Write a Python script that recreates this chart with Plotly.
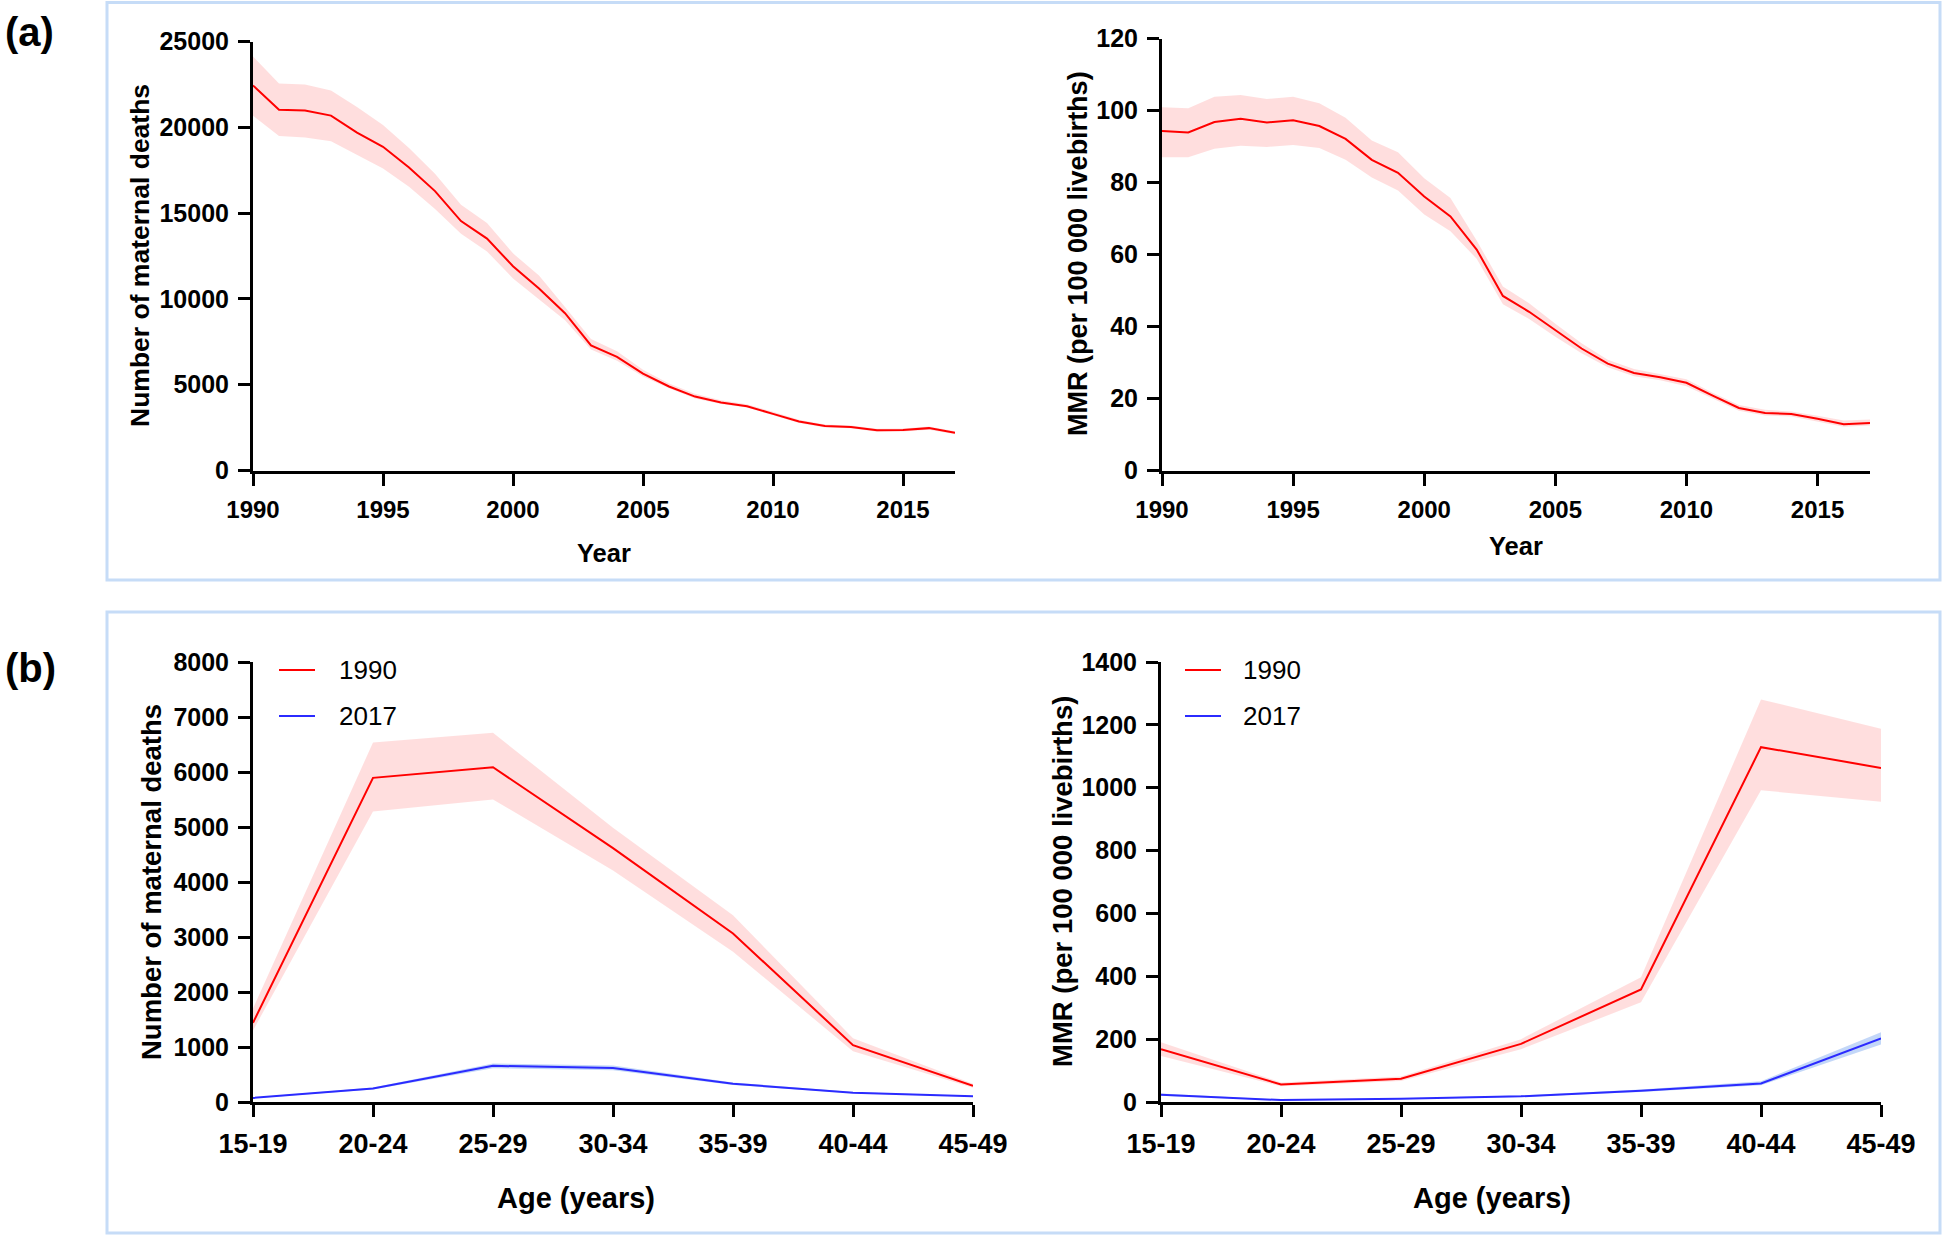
import plotly.graph_objects as go

# ---------------- data ----------------
years = list(range(1990, 2018))

deaths_mid = [22450, 21030, 20990, 20690, 19700, 18870, 17670, 16290, 14540, 13520,
              11910, 10610, 9170, 7290, 6620, 5650, 4900, 4310, 3970, 3750,
              3300, 2860, 2590, 2540, 2340, 2360, 2470, 2200]
deaths_hi = [24140, 22560, 22500, 22150, 21200, 20150, 18800, 17300, 15500, 14430,
             12660, 11370, 9530, 7660, 6950, 5870, 5070, 4470, 4100, 3860,
             3420, 2960, 2680, 2630, 2430, 2450, 2570, 2290]
deaths_lo = [20690, 19500, 19410, 19200, 18380, 17600, 16540, 15250, 13800, 12770,
             11200, 9970, 8760, 7050, 6400, 5480, 4790, 4200, 3880, 3670,
             3200, 2770, 2510, 2460, 2260, 2280, 2380, 2120]

mmr_mid = [94.3, 93.9, 96.8, 97.7, 96.7, 97.3, 95.7, 92.1, 86.3, 82.7,
           76.1, 70.6, 61.4, 48.5, 44.1, 39.0, 33.9, 29.7, 27.1, 25.9,
           24.4, 20.8, 17.4, 16.0, 15.7, 14.4, 12.9, 13.2]
mmr_hi = [100.9, 100.6, 103.8, 104.3, 103.2, 103.8, 102.0, 98.0, 91.7, 88.4,
          81.2, 75.7, 63.9, 51.1, 46.5, 40.8, 35.4, 30.8, 28.2, 26.7,
          25.4, 21.6, 18.2, 16.9, 16.4, 15.2, 13.9, 14.2]
mmr_lo = [87.0, 87.0, 89.4, 90.2, 89.9, 90.4, 89.6, 86.3, 81.4, 77.8,
          71.1, 66.5, 58.8, 46.2, 42.1, 37.2, 32.6, 28.7, 26.2, 25.1,
          23.4, 20.0, 16.6, 15.3, 15.0, 13.7, 12.2, 12.5]

ages = ["15-19", "20-24", "25-29", "30-34", "35-39", "40-44", "45-49"]

age_deaths_1990 = [1440, 5894, 6086, 4616, 3065, 1034, 295]
age_deaths_1990_hi = [1700, 6536, 6713, 4985, 3397, 1160, 332]
age_deaths_1990_lo = [1300, 5280, 5502, 4210, 2733, 923, 258]
age_deaths_2017 = [74, 244, 657, 620, 332, 170, 103]
age_deaths_2017_hi = [82, 262, 700, 665, 356, 183, 111]
age_deaths_2017_lo = [66, 226, 615, 578, 310, 158, 95]

age_mmr_1990 = [168, 56, 74, 185, 358, 1129, 1063]
age_mmr_1990_hi = [190, 62, 81, 200, 397, 1281, 1188]
age_mmr_1990_lo = [146, 50, 67, 168, 317, 992, 955]
age_mmr_2017 = [23, 6, 10, 18, 36, 59, 202]
age_mmr_2017_hi = [27, 7, 12, 21, 40, 66, 222]
age_mmr_2017_lo = [20, 5, 9, 16, 32, 53, 183]

# ---------------- styling ----------------
W, H = 1944, 1237
RED = "#ff0000"
RED_BAND = "rgba(255,0,0,0.13)"
BLUE = "#2b2bff"
BLUE_BAND = "rgba(40,110,230,0.28)"
BOX = "#c6dcf7"
FONT = "Liberation Sans, Arial, sans-serif"


def px(x):
    return x / W


def py(y):
    return 1 - y / H


fig = go.Figure()


def add_series(x, mid, lo, hi, color, band_color, xa, ya):
    xs = list(x)
    fig.add_trace(go.Scatter(
        x=xs + xs[::-1], y=list(hi) + list(lo)[::-1],
        fill="toself", fillcolor=band_color, mode="lines",
        line=dict(width=0), hoverinfo="skip", showlegend=False,
        xaxis=xa, yaxis=ya))
    fig.add_trace(go.Scatter(
        x=xs, y=mid, mode="lines", line=dict(color=color, width=2),
        showlegend=False, xaxis=xa, yaxis=ya))


add_series(years, deaths_mid, deaths_lo, deaths_hi, RED, RED_BAND, "x", "y")
add_series(years, mmr_mid, mmr_lo, mmr_hi, RED, RED_BAND, "x2", "y2")
add_series(ages, age_deaths_1990, age_deaths_1990_lo, age_deaths_1990_hi, RED, RED_BAND, "x3", "y3")
add_series(ages, age_deaths_2017, age_deaths_2017_lo, age_deaths_2017_hi, BLUE, BLUE_BAND, "x3", "y3")
add_series(ages, age_mmr_1990, age_mmr_1990_lo, age_mmr_1990_hi, RED, RED_BAND, "x4", "y4")
add_series(ages, age_mmr_2017, age_mmr_2017_lo, age_mmr_2017_hi, BLUE, BLUE_BAND, "x4", "y4")


def axis_common(size):
    return dict(
        showline=True, linecolor="black", linewidth=3,
        ticks="outside", ticklen=12, tickwidth=3, tickcolor="black",
        showgrid=False, zeroline=False, mirror=False, automargin=False,
        tickfont=dict(family=FONT, size=size, color="black", weight="bold"),
        ticklabelstandoff=4, tickformat="d",
    )


ya_top = [py(470.5), py(41.7)]
yb = [py(1102), py(662)]

fig.update_layout(
    width=W, height=H,
    margin=dict(l=0, r=0, t=0, b=0, pad=0, autoexpand=False),
    paper_bgcolor="white", plot_bgcolor="white",
    showlegend=False,
    xaxis=dict(domain=[px(253), px(955)], anchor="y", range=[1990, 2017],
               tickvals=[1990, 1995, 2000, 2005, 2010, 2015], **axis_common(24)),
    yaxis=dict(domain=ya_top, anchor="x", range=[0, 25000],
               tickvals=[0, 5000, 10000, 15000, 20000, 25000], **axis_common(25)),
    xaxis2=dict(domain=[px(1162), px(1870)], anchor="y2", range=[1990, 2017],
                tickvals=[1990, 1995, 2000, 2005, 2010, 2015], **axis_common(24)),
    yaxis2=dict(domain=[py(470.6), py(38.5)], anchor="x2", range=[0, 120],
                tickvals=[0, 20, 40, 60, 80, 100, 120], **axis_common(25)),
    xaxis3=dict(domain=[px(253), px(973)], anchor="y3", type="category",
                categoryorder="array", categoryarray=ages, range=[0, 6],
                **axis_common(27)),
    yaxis3=dict(domain=yb, anchor="x3", range=[0, 8000],
                tickvals=list(range(0, 8001, 1000)), **axis_common(25)),
    xaxis4=dict(domain=[px(1161), px(1881)], anchor="y4", type="category",
                categoryorder="array", categoryarray=ages, range=[0, 6],
                **axis_common(27)),
    yaxis4=dict(domain=yb, anchor="x4", range=[0, 1400],
                tickvals=list(range(0, 1401, 200)), **axis_common(25)),
)

# panel boxes
for (x0, y0, x1, y1) in [(107, 2.5, 1940, 580), (107, 612, 1940, 1233)]:
    fig.add_shape(type="rect", xref="paper", yref="paper",
                  x0=px(x0), x1=px(x1), y0=py(y1), y1=py(y0),
                  line=dict(color=BOX, width=3), fillcolor="rgba(0,0,0,0)", layer="below")


def text(x, y, s, size, bold=True, angle=0, xanchor="center"):
    fig.add_annotation(x=px(x), y=py(y), xref="paper", yref="paper", text=s,
                       showarrow=False, textangle=angle, xanchor=xanchor, yanchor="middle",
                       font=dict(family=FONT, size=size, color="black",
                                 weight="bold" if bold else "normal"))


# panel letters
text(3, 32, "(a)", 40, xanchor="left")
text(3, 668, "(b)", 40, xanchor="left")

# axis titles
text(140, 256, "Number of maternal deaths", 26.5, angle=-90)
text(604, 553, "Year", 25.5)
text(1078, 254, "MMR (per 100 000 livebirths)", 27, angle=-90)
text(1516, 546, "Year", 25.5)
text(151, 882, "Number of maternal deaths", 27.5, angle=-90)
text(576, 1198, "Age (years)", 29)
text(1062, 882, "MMR (per 100 000 livebirths)", 27.5, angle=-90)
text(1492, 1198, "Age (years)", 29)

# legends (b panels)
for lx, tx in [(279, 337), (1185, 1241)]:
    for ly, lbl, col in [(670, "1990", RED), (716, "2017", BLUE)]:
        fig.add_shape(type="line", xref="paper", yref="paper",
                      x0=px(lx), x1=px(lx + 36), y0=py(ly), y1=py(ly),
                      line=dict(color=col, width=2))
        text(tx, ly, lbl, 26, bold=False, xanchor="left")

# remove the default page margin so the figure fills the window exactly
fig.write_html("out.html", config={"displayModeBar": False},
               post_script="document.body.style.margin='0px';")
